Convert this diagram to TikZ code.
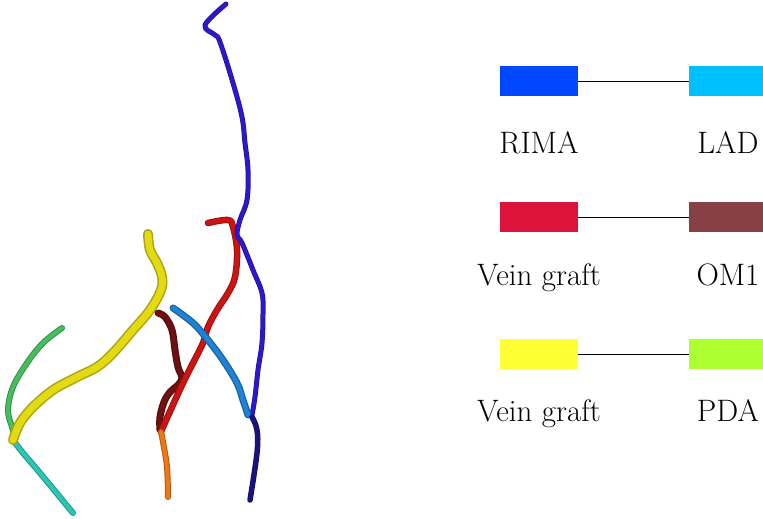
\documentclass[tikz,border=0pt]{standalone}
\usepackage{tikz}
\usetikzlibrary{positioning}
\definecolor{rimaBlue}{RGB}{0,72,255}
\definecolor{ladCyan}{RGB}{0,191,255}
\definecolor{veinRed}{RGB}{220,20,60}
\definecolor{omBrown}{RGB}{136,64,69}
\definecolor{veinYellow}{RGB}{255,255,51}
\definecolor{pdaGreen}{RGB}{173,255,47}
\definecolor{vBlue}{RGB}{45,25,205}
\definecolor{vNavy}{RGB}{25,20,125}
\definecolor{vSky}{RGB}{30,130,215}
\definecolor{vRed}{RGB}{205,20,20}
\definecolor{vMaroon}{RGB}{112,16,16}
\definecolor{vOrange}{RGB}{240,120,20}
\definecolor{vYellow}{RGB}{228,218,20}
\definecolor{vGreen}{RGB}{70,190,95}
\definecolor{vTeal}{RGB}{40,200,180}
\tikzset{
legbox/.style = {fill=#1, minimum width=78pt, minimum height=29.7pt, inner sep=0pt, outer sep=0pt},
leglbl/.style = {anchor=base, inner sep=0pt, font=\fontsize{31}{37}\selectfont},
% tube: dark rim first, lighter core on top
tube/.style n args={3}{draw=#1!75!black, line width=#2, line cap=round, line join=round,
  postaction={draw=#1, line width=#3, line cap=round, line join=round}}
}

\begin{document}
\begin{tikzpicture}[x=1pt,y=-1pt]
  \useasboundingbox (0,0) rectangle (763,519);
  % vessels
  \draw[tube={vGreen}{6pt}{4pt}] plot[smooth, tension=0.6] coordinates
    {(62,328) (43,343) (27,363) (13,387) (8,410) (12,427) (15,435)};
  \draw[tube={vTeal}{6pt}{4pt}] plot[smooth, tension=0.6] coordinates
    {(13,440) (23,453) (40,473) (73,513)};
  \draw[tube={vYellow}{10pt}{7pt}] plot[smooth, tension=0.6] coordinates
    {(148,234) (150,250) (157,263) (162,277) (161,290) (150,310) (133,330) (113,353) (97,367) (77,377) (53,390) (33,407) (20,423) (13,440)};
  \draw[tube={vMaroon}{7pt}{4.5pt}] plot[smooth, tension=0.6] coordinates
    {(158,313) (165,317) (172,330) (175,350) (178,367) (182,378) (178,385) (170,392) (164,402) (160,417) (160,430)};
  \draw[tube={vRed}{6.5pt}{4.5pt}] plot[smooth, tension=0.6] coordinates
    {(208,223) (228,220) (233,227) (237,250) (235,277) (228,293) (217,310) (208,327) (203,343) (193,363) (183,383) (172,407) (163,427) (161,432)};
  \draw[tube={vOrange}{6pt}{4pt}] plot[smooth, tension=0.6] coordinates
    {(161,432) (163,442) (167,467) (168,497)};
  \draw[tube={vBlue}{5pt}{3.5pt}] plot[smooth, tension=0.6] coordinates
    {(226,4) (205,25) (215,35) (220,42) (233,83) (242,117) (245,143) (248,170) (247,200) (240,220) (237,235) (242,243) (253,270) (262,293) (263,313) (262,343) (258,370) (255,397) (252,415)};
  \draw[tube={vSky}{7pt}{4.5pt}] plot[smooth, tension=0.6] coordinates
    {(173,308) (193,323) (208,340) (223,360) (237,383) (243,400) (248,415)};
  \draw[tube={vNavy}{5.5pt}{4pt}] plot[smooth, tension=0.6] coordinates
    {(252,417) (257,430) (257,453) (250,500)};
  % legend
  \node[legbox=rimaBlue] (rima) at (539,81) {};
  \node[legbox=ladCyan, right=111pt of rima] (lad) {};
  \node[legbox=veinRed] (vein1) at (539,217) {};
  \node[legbox=omBrown, right=111pt of vein1] (om1) {};
  \node[legbox=veinYellow] (vein2) at (539,354) {};
  \node[legbox=pdaGreen, right=111pt of vein2] (pda) {};
  \draw[thin] (rima) -- (lad);
  \draw[thin] (vein1) -- (om1);
  \draw[thin] (vein2) -- (pda);
  \node[leglbl] (rimaT) at (539,153) {RIMA};
  \node[leglbl] (ladT) at (728,153) {LAD};
  \node[leglbl] (vein1T) at (539,285) {Vein graft};
  \node[leglbl] (om1T) at (728,285) {OM1};
  \node[leglbl] (vein2T) at (539,421) {Vein graft};
  \node[leglbl] (pdaT) at (728,421) {PDA};
\end{tikzpicture}
\end{document}
